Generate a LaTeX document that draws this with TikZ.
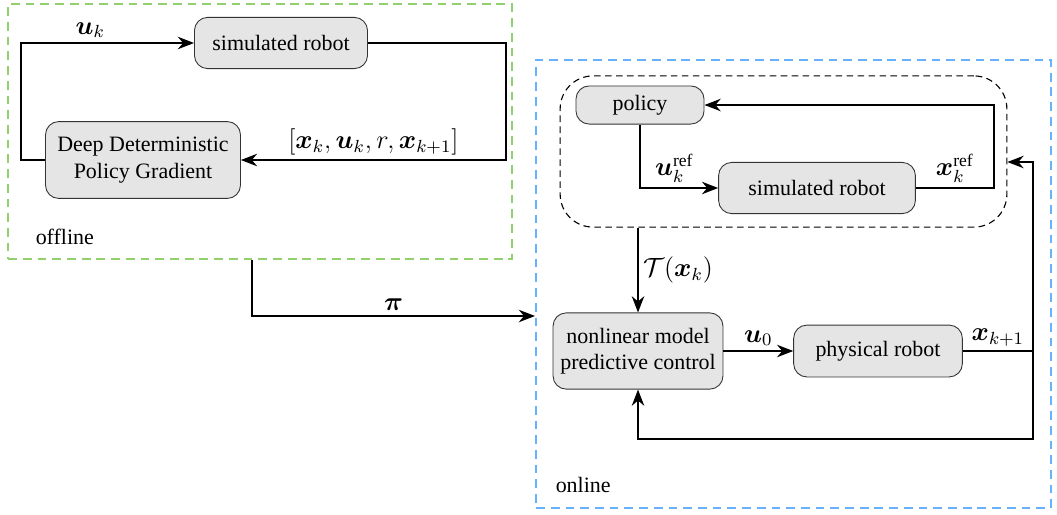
\documentclass[tikz,border=0pt]{standalone}
\usepackage{amsmath}
\usepackage{fontspec}
\setmainfont{Liberation Serif}
\usetikzlibrary{arrows.meta,positioning}
\definecolor{offgreen}{RGB}{146,208,110}
\definecolor{onblue}{RGB}{102,178,255}
\tikzset{
  block/.style={draw=black!80, fill=black!10, rounded corners=6pt, align=center, inner sep=2pt},
  link/.style={line width=0.6pt, -{Stealth[length=2.6mm,width=2mm]}},
  wire/.style={line width=0.6pt},
  phase/.style={line width=1pt, dash pattern=on 4pt off 2.7pt, inner sep=0pt},
  sig/.style={font=\large, inner sep=2pt},
}
\newcommand{\vb}[1]{\boldsymbol{#1}}
\begin{document}
\begin{tikzpicture}[x=0.016cm,y=-0.016cm]
  \useasboundingbox (0,0) rectangle (1057,514);
  % the two phases
  \node[phase, draw=offgreen, minimum width=8.06cm, minimum height=4.08cm] (offbox) at (260,131.5) {};
  \node[phase, draw=onblue, minimum width=8.24cm, minimum height=7.18cm] (onbox) at (793.5,284) {};
  \node[anchor=west] at (28,237) {offline};
  \node[anchor=west] at (548,485) {online};
  % offline training loop
  \node[block, minimum width=2.77cm, minimum height=0.82cm] (simoff) at (281,43) {simulated robot};
  \node[block, minimum width=3.12cm, minimum height=1.23cm] (ddpg) at (143,160) {Deep Deterministic\\Policy Gradient};
  \path (21,160) coordinate (ul) (506,43) coordinate (ur);
  \draw[link] (ddpg.west) -- (ul) |- (simoff.west) node[pos=0.7, above, sig] {$\vb{u}_k$};
  \draw[link] (simoff.east) -- (ur) |- (ddpg.east) node[pos=0.75, above, sig] {$[\vb{x}_k,\vb{u}_k,r,\vb{x}_{k+1}]$};
  % trained policy handed over
  \coordinate (pi0) at (252,316);
  \draw[link] (offbox.south -| pi0) -- (pi0) -- (onbox.west |- pi0) node[midway, above, sig] {$\vb{\pi}$};
  % reference generation
  \node[draw, densely dashed, rounded corners=15pt, line width=0.5pt, minimum width=7.15cm, minimum height=2.42cm] (refbox) at (783.5,151.5) {};
  \node[block, minimum width=2.05cm, minimum height=0.61cm] (policy) at (640,105) {policy};
  \node[block, minimum width=3.15cm, minimum height=0.82cm] (simon) at (817,188) {simulated robot};
  \coordinate (xr) at (994,188);
  \draw[link] (policy.south) |- (simon.west) node[pos=0.72, above, sig] {$\vb{u}_k^{\mathrm{ref}}$};
  \draw[link] (simon.east) -- (xr) node[midway, above, sig] {$\vb{x}_k^{\mathrm{ref}}$} |- (policy.east);
  % online control loop
  \node[block, minimum width=2.72cm, minimum height=1.22cm] (nmpc) at (638,351) {nonlinear model\\predictive control};
  \node[block, minimum width=2.70cm, minimum height=0.83cm] (phys) at (878,351) {physical robot};
  \path (1033,351) coordinate (fb) (1033,162) coordinate (fbtop) (1033,439) coordinate (fbbot);
  \draw[link] (nmpc |- refbox.south) -- (nmpc.north) node[midway, right, sig] {$\mathcal{T}(\vb{x}_k)$};
  \draw[link] (nmpc.east) -- (phys.west) node[midway, above, sig] {$\vb{u}_0$};
  \draw[wire] (phys.east) -- (fb) node[midway, above, sig] {$\vb{x}_{k+1}$};
  \draw[link] (fb) -- (fbtop) -- (refbox.east |- fbtop);
  \draw[link] (fb) -- (fbbot) -| (nmpc.south);
\end{tikzpicture}
\end{document}
